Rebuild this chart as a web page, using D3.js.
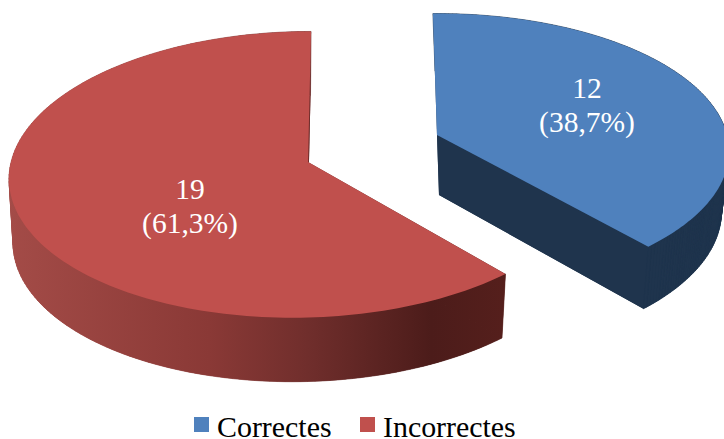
<!DOCTYPE html>
<html>
<head>
<meta charset="utf-8">
<script src="https://cdn.jsdelivr.net/npm/d3@7/dist/d3.min.js"></script>
<style>
    html, body { margin: 0; padding: 0; background: #fff; overflow: hidden; }
    text { font-family: "Liberation Serif", "Times New Roman", serif; }
</style>
</head>
<body>
<div id="svgDiv"></div>
<script>
    var categories = ["Correctes", "Incorrectes"];
    var counts = [12, 19];
    var topColors = ["#4f81bd", "#c0504d"];

    var width = 724, height = 439;
    var rotation = -1 * Math.PI / 180;

    // One tilted disc per slice, the blue one pulled out of the pie
    var discs = [
        {x: 437, y: 135, b: 290, a: 136, d: -0.45, k: 0.12, m: 0, dx: 2, depth: 60, squeeze: 0.967, stretch: 1.02},
        {x: 308, y: 162, b: 291, a: 142, d: -8.4, k: 0.088, m: 0.02, dx: -0.5, depth: 64, squeeze: 0.985, stretch: 1}
    ];
    var labelSpots = [{x: 587, y: 98}, {x: 190, y: 199}];

    var svg = d3.select("#svgDiv").append("svg")
        .attr("width", width)
        .attr("height", height)
        .style("display", "block");

    // Side wall shading of the big slice
    var shade = svg.append("defs").append("linearGradient")
        .attr("id", "wallShade")
        .attr("gradientUnits", "userSpaceOnUse")
        .attr("x1", 12).attr("x2", 505).attr("y1", 0).attr("y2", 0);
    [[0, "#a34b47"], [0.4, "#8a3936"], [0.6, "#702e2c"], [0.85, "#4c1c1a"], [1, "#551f1c"]].forEach(function (s) {
        shade.append("stop").attr("offset", s[0]).attr("stop-color", s[1]);
    });
    var wallFills = ["#1f344d", "url(#wallShade)"];

    var pie = d3.pie().sort(null).startAngle(rotation).endAngle(rotation + 2 * Math.PI);
    var slices = pie(counts);
    var line = d3.line().x(function (p) { return p[0]; }).y(function (p) { return p[1]; });

    // Angle on the disc (clockwise from the top) to screen position
    function project(disc, angle, radius, lower) {
        var u = radius * Math.sin(angle), v = -radius * Math.cos(angle);
        var w = 1 - disc.k * v + disc.m * u;
        var sx = (disc.b * u + disc.d * v) / w;
        var sy = disc.a * v / w;
        if (lower) {
            return [disc.x + disc.dx + sx * disc.squeeze, disc.y + disc.depth + sy * disc.stretch];
        }
        return [disc.x + sx, disc.y + sy];
    }

    function rim(disc, slice, lower) {
        var steps = 160;
        return d3.range(steps + 1).map(function (i) {
            var t = slice.startAngle + (slice.endAngle - slice.startAngle) * i / steps;
            return project(disc, t, 1, lower);
        });
    }

    function sector(disc, slice, lower) {
        return line([project(disc, 0, 0, lower)].concat(rim(disc, slice, lower))) + "Z";
    }

    slices.forEach(function (slice, i) {
        var disc = discs[i];
        var g = svg.append("g");
        var top = rim(disc, slice, false), bottom = rim(disc, slice, true);
        var tip = [project(disc, 0, 0, false), project(disc, 0, 0, true)];

        // underside and the two cut faces
        g.append("path").attr("d", sector(disc, slice, true)).attr("fill", wallFills[i]);
        g.append("path").attr("d", line([tip[0], top[0], bottom[0], tip[1]]) + "Z").attr("fill", wallFills[i]);
        g.append("path").attr("d", line([tip[0], top[top.length - 1], bottom[bottom.length - 1], tip[1]]) + "Z").attr("fill", wallFills[i]);

        // curved wall, one thin quad per step so the silhouette stays straight
        g.selectAll(".wall").data(d3.range(top.length - 1)).join("path")
            .attr("class", "wall")
            .attr("d", function (j) { return line([top[j], top[j + 1], bottom[j + 1], bottom[j]]) + "Z"; })
            .attr("fill", wallFills[i])
            .attr("stroke", wallFills[i])
            .attr("stroke-width", 0.6);

        g.append("path").attr("d", sector(disc, slice, false)).attr("fill", topColors[i]);
    });

    // Value labels
    var total = d3.sum(counts);
    var labels = svg.append("g").attr("font-size", 29.5).attr("fill", "#fff").attr("text-anchor", "middle");
    counts.forEach(function (c, i) {
        var pct = d3.format(".1f")(c / total * 100).replace(".", ",");
        labels.append("text").attr("x", labelSpots[i].x).attr("y", labelSpots[i].y).text(c);
        labels.append("text").attr("x", labelSpots[i].x).attr("y", labelSpots[i].y + 34).text("(" + pct + "%)");
    });

    // Legend
    var legendX = d3.scaleOrdinal().domain(categories).range([194, 360]);
    var legend = svg.append("g").selectAll("g").data(categories).join("g")
        .attr("transform", function (d) { return "translate(" + legendX(d) + ",417)"; });
    legend.append("rect")
        .attr("width", 15).attr("height", 15)
        .attr("fill", function (d, i) { return topColors[i]; });
    legend.append("text")
        .attr("x", 23).attr("y", 20)
        .attr("font-size", 29.9).attr("fill", "#000")
        .text(function (d) { return d; });
</script>
</body>
</html>
